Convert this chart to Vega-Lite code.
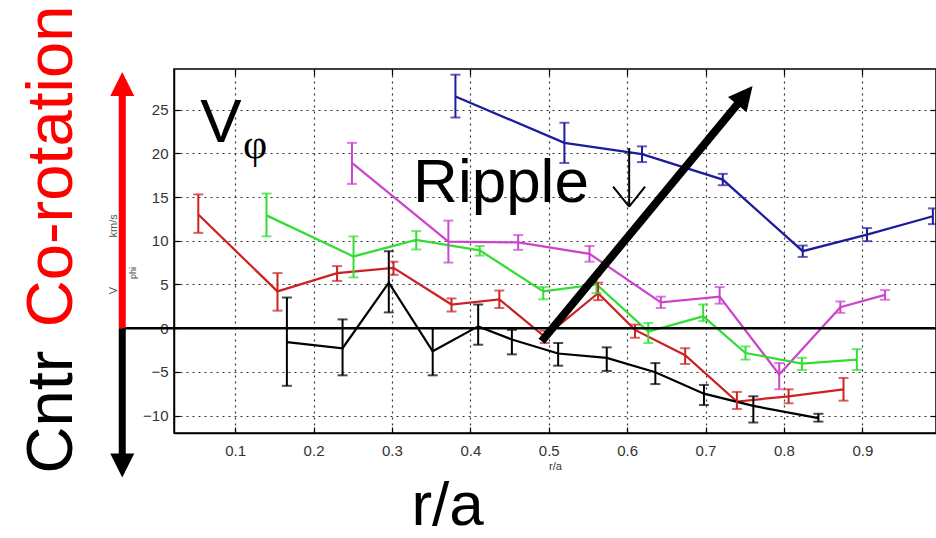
{
  "$schema": "https://vega.github.io/schema/vega-lite/v6.json",
  "width": 762,
  "height": 364,
  "autosize": "none",
  "padding": {"left": 174, "top": 69, "right": 0, "bottom": 105},
  "background": "white",
  "config": {
    "view": {"stroke": "black", "strokeWidth": 1.5},
    "font": "Liberation Sans"
  },
  "datasets": {
    "pts": [
      {"s": "blue", "x": 0.381, "y": 26.5, "lo": 24.1, "hi": 29.0},
      {"s": "blue", "x": 0.520, "y": 21.2, "lo": 18.9, "hi": 23.5},
      {"s": "blue", "x": 0.619, "y": 19.9, "lo": 19.0, "hi": 20.8},
      {"s": "blue", "x": 0.722, "y": 17.0, "lo": 16.35, "hi": 17.65},
      {"s": "blue", "x": 0.824, "y": 8.8, "lo": 8.15, "hi": 9.45},
      {"s": "blue", "x": 0.906, "y": 10.7, "lo": 9.95, "hi": 11.45},
      {"s": "blue", "x": 0.990, "y": 12.8, "lo": 11.9, "hi": 13.7},
      {"s": "magenta", "x": 0.249, "y": 18.9, "lo": 16.5, "hi": 21.2},
      {"s": "magenta", "x": 0.372, "y": 9.9, "lo": 7.5, "hi": 12.3},
      {"s": "magenta", "x": 0.461, "y": 9.8, "lo": 8.95, "hi": 10.65},
      {"s": "magenta", "x": 0.552, "y": 8.5, "lo": 7.6, "hi": 9.4},
      {"s": "magenta", "x": 0.643, "y": 2.95, "lo": 2.3, "hi": 3.6},
      {"s": "magenta", "x": 0.718, "y": 3.6, "lo": 2.8, "hi": 4.7},
      {"s": "magenta", "x": 0.794, "y": -5.3, "lo": -7.0, "hi": -4.0},
      {"s": "magenta", "x": 0.872, "y": 2.4, "lo": 1.75, "hi": 3.05},
      {"s": "magenta", "x": 0.929, "y": 3.8, "lo": 3.25, "hi": 4.35},
      {"s": "green", "x": 0.140, "y": 12.9, "lo": 10.5, "hi": 15.4},
      {"s": "green", "x": 0.251, "y": 8.2, "lo": 5.8, "hi": 10.5},
      {"s": "green", "x": 0.331, "y": 10.1, "lo": 9.0, "hi": 11.1},
      {"s": "green", "x": 0.412, "y": 8.9, "lo": 8.3, "hi": 9.4},
      {"s": "green", "x": 0.493, "y": 4.2, "lo": 3.3, "hi": 4.7},
      {"s": "green", "x": 0.561, "y": 5.0, "lo": 4.0, "hi": 6.0},
      {"s": "green", "x": 0.627, "y": -0.4, "lo": -1.7, "hi": 0.6},
      {"s": "green", "x": 0.697, "y": 1.35, "lo": 0.8, "hi": 2.7},
      {"s": "green", "x": 0.751, "y": -2.85, "lo": -3.6, "hi": -2.1},
      {"s": "green", "x": 0.823, "y": -4.05, "lo": -4.8, "hi": -3.4},
      {"s": "green", "x": 0.893, "y": -3.6, "lo": -4.8, "hi": -2.4},
      {"s": "red", "x": 0.053, "y": 13.0, "lo": 10.9, "hi": 15.3},
      {"s": "red", "x": 0.154, "y": 4.2, "lo": 2.0, "hi": 6.3},
      {"s": "red", "x": 0.230, "y": 6.3, "lo": 5.4, "hi": 7.1},
      {"s": "red", "x": 0.302, "y": 6.9, "lo": 6.1, "hi": 7.6},
      {"s": "red", "x": 0.376, "y": 2.7, "lo": 1.9, "hi": 3.4},
      {"s": "red", "x": 0.437, "y": 3.3, "lo": 2.3, "hi": 4.3},
      {"s": "red", "x": 0.495, "y": -1.0, "lo": -1.7, "hi": -0.3},
      {"s": "red", "x": 0.563, "y": 4.0, "lo": 3.2, "hi": 5.2},
      {"s": "red", "x": 0.610, "y": -0.2, "lo": -1.1, "hi": 0.4},
      {"s": "red", "x": 0.674, "y": -3.1, "lo": -4.1, "hi": -2.3},
      {"s": "red", "x": 0.740, "y": -8.4, "lo": -9.25, "hi": -7.3},
      {"s": "red", "x": 0.806, "y": -7.8, "lo": -8.6, "hi": -7.0},
      {"s": "red", "x": 0.876, "y": -7.0, "lo": -8.3, "hi": -5.7},
      {"s": "black", "x": 0.166, "y": -1.6, "lo": -6.6, "hi": 3.5},
      {"s": "black", "x": 0.237, "y": -2.3, "lo": -5.4, "hi": 1.0},
      {"s": "black", "x": 0.296, "y": 5.2, "lo": 1.8, "hi": 8.8},
      {"s": "black", "x": 0.352, "y": -2.65, "lo": -5.4, "hi": 0.0},
      {"s": "black", "x": 0.410, "y": 0.2, "lo": -1.9, "hi": 2.7},
      {"s": "black", "x": 0.453, "y": -1.3, "lo": -3.0, "hi": -0.2},
      {"s": "black", "x": 0.512, "y": -2.9, "lo": -4.3, "hi": -1.7},
      {"s": "black", "x": 0.574, "y": -3.4, "lo": -4.9, "hi": -2.2},
      {"s": "black", "x": 0.636, "y": -5.05, "lo": -6.4, "hi": -4.0},
      {"s": "black", "x": 0.698, "y": -7.5, "lo": -8.8, "hi": -6.5},
      {"s": "black", "x": 0.761, "y": -8.9, "lo": -10.8, "hi": -7.8},
      {"s": "black", "x": 0.844, "y": -10.3, "lo": -10.7, "hi": -9.8}
    ],
    "ann": [
      {"id": "corot", "label": "Co-rotation", "x": -0.108, "y": 18.5},
      {"id": "cntr", "label": "Cntr", "x": -0.108, "y": -9.6},
      {"id": "bigV", "label": "V", "x": 0.0554, "y": 21.35},
      {"id": "phiBig", "label": "φ", "x": 0.110, "y": 19.5},
      {"id": "ripple", "label": "Ripple", "x": 0.327, "y": 14.4},
      {"id": "ra", "label": "r/a", "x": 0.371, "y": -22.55},
      {"id": "smallV", "label": "V", "x": -0.051, "y": 4.3},
      {"id": "kms", "label": "km/s", "x": -0.051, "y": 11.7},
      {"id": "phiSmall", "label": "phi", "x": -0.026, "y": 6.3}
    ],
    "segs": [
      {"name": "zero", "x": -0.044, "y": 0, "x2": 0.994, "y2": 0},
      {"name": "up", "x": -0.044, "y": 0, "x2": -0.044, "y2": 27.0},
      {"name": "down", "x": -0.044, "y": 0, "x2": -0.044, "y2": -14.8},
      {"name": "diag", "x": 0.491, "y": -1.5, "x2": 0.747, "y2": 26.3},
      {"name": "ripv", "x": 0.6026, "y": 20.6, "x2": 0.6026, "y2": 13.9},
      {"name": "ripl", "x": 0.5821, "y": 16.2, "x2": 0.6026, "y2": 13.9},
      {"name": "ripr", "x": 0.6229, "y": 16.2, "x2": 0.6026, "y2": 13.9}
    ],
    "heads": [
      {"name": "up", "x": -0.044, "y": 29.3},
      {"name": "down", "x": -0.044, "y": -17.1},
      {"name": "diag", "x": 0.760, "y": 27.7}
    ]
  },
  "resolve": {"axis": {"x": "independent", "y": "independent"}},
  "layer": [
    {
      "data": {"name": "pts"},
      "mark": {"type": "line"},
      "encoding": {
        "x": {"field": "x", "type": "quantitative",
          "scale": {"domain": [0.022, 0.994], "nice": false, "zero": false},
          "axis": {"orient": "bottom", "values": [0.1, 0.2, 0.3, 0.4, 0.5, 0.6, 0.7, 0.8, 0.9], "format": ".1f",
            "grid": true, "gridDash": [2, 4], "gridColor": "#333", "gridOpacity": 1, "gridWidth": 1.2,
            "tickSize": -6, "tickColor": "black", "tickWidth": 1.2, "domainColor": "black", "domainWidth": 1.5,
            "labelFont": "Liberation Sans", "labelFontSize": 15, "labelColor": "#333", "labelPadding": 16,
            "title": "r/a", "titleFont": "Liberation Sans", "titleFontSize": 11, "titleFontWeight": "normal", "titleColor": "#333", "titlePadding": 2}},
        "y": {"field": "y", "type": "quantitative",
          "scale": {"domain": [-12, 29.65], "nice": false, "zero": false},
          "axis": {"orient": "left", "values": [-10, -5, 0, 5, 10, 15, 20, 25],
            "grid": true, "gridDash": [2, 4], "gridColor": "#333", "gridOpacity": 1, "gridWidth": 1.2,
            "tickSize": -6, "tickColor": "black", "tickWidth": 1.2, "domainColor": "black", "domainWidth": 1.5,
            "labelFont": "Liberation Sans", "labelFontSize": 15, "labelColor": "#333", "labelPadding": 12,
            "title": null}},
        "color": {"field": "s", "type": "nominal",
          "scale": {"domain": ["blue", "magenta", "green", "red", "black"], "range": ["#1c1c9c", "#cc44cc", "#33dd33", "#cc2222", "#000000"]},
          "legend": null},
        "strokeWidth": {"field": "s", "type": "nominal",
          "scale": {"domain": ["blue", "magenta", "green", "red", "black"], "range": [2.3, 2.2, 3, 2.2, 2.2]},
          "legend": null}
      }
    },
    {
      "data": {"name": "pts"},
      "mark": {"type": "rule", "strokeWidth": 2},
      "encoding": {
        "x": {"field": "x", "type": "quantitative", "scale": {"domain": [0.022, 0.994], "nice": false, "zero": false},
          "axis": {"orient": "top", "values": [0.1, 0.2, 0.3, 0.4, 0.5, 0.6, 0.7, 0.8, 0.9], "labels": false, "domain": false, "grid": false,
            "tickSize": -6, "tickColor": "black", "tickWidth": 1.2, "title": null}},
        "y": {"field": "lo", "type": "quantitative", "scale": {"domain": [-12, 29.65], "nice": false, "zero": false},
          "axis": {"orient": "right", "values": [-10, -5, 0, 5, 10, 15, 20, 25], "labels": false, "domain": false, "grid": false,
            "tickSize": -6, "tickColor": "black", "tickWidth": 1.2, "title": null}},
        "y2": {"field": "hi"},
        "color": {"field": "s", "type": "nominal", "legend": null}
      }
    },
    {
      "data": {"name": "pts"},
      "mark": {"type": "tick", "orient": "horizontal", "size": 10, "thickness": 2},
      "encoding": {
        "x": {"field": "x", "type": "quantitative", "scale": {"domain": [0.022, 0.994], "nice": false, "zero": false}, "axis": null},
        "y": {"field": "lo", "type": "quantitative", "scale": {"domain": [-12, 29.65], "nice": false, "zero": false}, "axis": null},
        "color": {"field": "s", "type": "nominal", "legend": null}
      }
    },
    {
      "data": {"name": "pts"},
      "mark": {"type": "tick", "orient": "horizontal", "size": 10, "thickness": 2},
      "encoding": {
        "x": {"field": "x", "type": "quantitative", "scale": {"domain": [0.022, 0.994], "nice": false, "zero": false}, "axis": null},
        "y": {"field": "hi", "type": "quantitative", "scale": {"domain": [-12, 29.65], "nice": false, "zero": false}, "axis": null},
        "color": {"field": "s", "type": "nominal", "legend": null}
      }
    },
    {
      "data": {"name": "ann"},
      "transform": [{"filter": "datum.id == 'smallV' || datum.id == 'kms'"}],
      "mark": {"type": "text", "font": "Liberation Sans", "fontSize": 11, "color": "#555", "angle": 270, "align": "center", "baseline": "alphabetic"},
      "encoding": {
        "x": {"field": "x", "type": "quantitative", "scale": {"domain": [0.022, 0.994], "nice": false, "zero": false}, "axis": null},
        "y": {"field": "y", "type": "quantitative", "scale": {"domain": [-12, 29.65], "nice": false, "zero": false}, "axis": null},
        "text": {"field": "label", "type": "nominal"}
      }
    },
    {
      "data": {"name": "ann"},
      "transform": [{"filter": "datum.id == 'phiSmall'"}],
      "mark": {"type": "text", "font": "Liberation Sans", "fontSize": 9, "color": "#555", "angle": 270, "align": "center", "baseline": "alphabetic"},
      "encoding": {
        "x": {"field": "x", "type": "quantitative", "scale": {"domain": [0.022, 0.994], "nice": false, "zero": false}, "axis": null},
        "y": {"field": "y", "type": "quantitative", "scale": {"domain": [-12, 29.65], "nice": false, "zero": false}, "axis": null},
        "text": {"field": "label", "type": "nominal"}
      }
    },
    {
      "data": {"name": "segs"},
      "transform": [{"filter": "datum.name == 'zero'"}],
      "mark": {"type": "rule", "color": "black", "strokeWidth": 2.5},
      "encoding": {
        "x": {"field": "x", "type": "quantitative", "scale": {"domain": [0.022, 0.994], "nice": false, "zero": false}, "axis": null},
        "y": {"field": "y", "type": "quantitative", "scale": {"domain": [-12, 29.65], "nice": false, "zero": false}, "axis": null},
        "x2": {"field": "x2"},
        "y2": {"field": "y2"}
      }
    },
    {
      "data": {"name": "segs"},
      "transform": [{"filter": "datum.name == 'up'"}],
      "mark": {"type": "rule", "color": "#ff0000", "strokeWidth": 7},
      "encoding": {
        "x": {"field": "x", "type": "quantitative", "scale": {"domain": [0.022, 0.994], "nice": false, "zero": false}, "axis": null},
        "y": {"field": "y", "type": "quantitative", "scale": {"domain": [-12, 29.65], "nice": false, "zero": false}, "axis": null},
        "x2": {"field": "x2"},
        "y2": {"field": "y2"}
      }
    },
    {
      "data": {"name": "segs"},
      "transform": [{"filter": "datum.name == 'down'"}],
      "mark": {"type": "rule", "color": "black", "strokeWidth": 7},
      "encoding": {
        "x": {"field": "x", "type": "quantitative", "scale": {"domain": [0.022, 0.994], "nice": false, "zero": false}, "axis": null},
        "y": {"field": "y", "type": "quantitative", "scale": {"domain": [-12, 29.65], "nice": false, "zero": false}, "axis": null},
        "x2": {"field": "x2"},
        "y2": {"field": "y2"}
      }
    },
    {
      "data": {"name": "segs"},
      "transform": [{"filter": "datum.name == 'ripv' || datum.name == 'ripl' || datum.name == 'ripr'"}],
      "mark": {"type": "rule", "color": "black", "strokeWidth": 2},
      "encoding": {
        "x": {"field": "x", "type": "quantitative", "scale": {"domain": [0.022, 0.994], "nice": false, "zero": false}, "axis": null},
        "y": {"field": "y", "type": "quantitative", "scale": {"domain": [-12, 29.65], "nice": false, "zero": false}, "axis": null},
        "x2": {"field": "x2"},
        "y2": {"field": "y2"}
      }
    },
    {
      "data": {"name": "heads"},
      "transform": [{"filter": "datum.name == 'up'"}],
      "mark": {"type": "point", "shape": "M0,0L1,2L-1,2Z", "size": 576, "filled": true, "color": "#ff0000", "opacity": 1, "angle": 0},
      "encoding": {
        "x": {"field": "x", "type": "quantitative", "scale": {"domain": [0.022, 0.994], "nice": false, "zero": false}, "axis": null},
        "y": {"field": "y", "type": "quantitative", "scale": {"domain": [-12, 29.65], "nice": false, "zero": false}, "axis": null}
      }
    },
    {
      "data": {"name": "heads"},
      "transform": [{"filter": "datum.name == 'down'"}],
      "mark": {"type": "point", "shape": "M0,0L1,2L-1,2Z", "size": 576, "filled": true, "color": "black", "opacity": 1, "angle": 180},
      "encoding": {
        "x": {"field": "x", "type": "quantitative", "scale": {"domain": [0.022, 0.994], "nice": false, "zero": false}, "axis": null},
        "y": {"field": "y", "type": "quantitative", "scale": {"domain": [-12, 29.65], "nice": false, "zero": false}, "axis": null}
      }
    },
    {
      "data": {"name": "ann"},
      "transform": [{"filter": "datum.id == 'corot'"}],
      "mark": {"type": "text", "font": "Liberation Sans", "fontSize": 65, "color": "#ff0000", "angle": 270, "align": "center", "baseline": "alphabetic"},
      "encoding": {
        "x": {"field": "x", "type": "quantitative", "scale": {"domain": [0.022, 0.994], "nice": false, "zero": false}, "axis": null},
        "y": {"field": "y", "type": "quantitative", "scale": {"domain": [-12, 29.65], "nice": false, "zero": false}, "axis": null},
        "text": {"field": "label", "type": "nominal"}
      }
    },
    {
      "data": {"name": "ann"},
      "transform": [{"filter": "datum.id == 'cntr'"}],
      "mark": {"type": "text", "font": "Liberation Sans", "fontSize": 65, "color": "black", "angle": 270, "align": "center", "baseline": "alphabetic"},
      "encoding": {
        "x": {"field": "x", "type": "quantitative", "scale": {"domain": [0.022, 0.994], "nice": false, "zero": false}, "axis": null},
        "y": {"field": "y", "type": "quantitative", "scale": {"domain": [-12, 29.65], "nice": false, "zero": false}, "axis": null},
        "text": {"field": "label", "type": "nominal"}
      }
    },
    {
      "data": {"name": "ann"},
      "transform": [{"filter": "datum.id == 'bigV' || datum.id == 'ripple'"}],
      "mark": {"type": "text", "font": "Liberation Sans", "fontSize": 62, "color": "black", "align": "left", "baseline": "alphabetic"},
      "encoding": {
        "x": {"field": "x", "type": "quantitative", "scale": {"domain": [0.022, 0.994], "nice": false, "zero": false}, "axis": null},
        "y": {"field": "y", "type": "quantitative", "scale": {"domain": [-12, 29.65], "nice": false, "zero": false}, "axis": null},
        "text": {"field": "label", "type": "nominal"}
      }
    },
    {
      "data": {"name": "ann"},
      "transform": [{"filter": "datum.id == 'phiBig'"}],
      "mark": {"type": "text", "font": "Liberation Serif", "fontSize": 42, "color": "black", "align": "left", "baseline": "alphabetic"},
      "encoding": {
        "x": {"field": "x", "type": "quantitative", "scale": {"domain": [0.022, 0.994], "nice": false, "zero": false}, "axis": null},
        "y": {"field": "y", "type": "quantitative", "scale": {"domain": [-12, 29.65], "nice": false, "zero": false}, "axis": null},
        "text": {"field": "label", "type": "nominal"}
      }
    },
    {
      "data": {"name": "ann"},
      "transform": [{"filter": "datum.id == 'ra'"}],
      "mark": {"type": "text", "font": "Liberation Sans", "fontSize": 62, "color": "black", "align": "center", "baseline": "alphabetic"},
      "encoding": {
        "x": {"field": "x", "type": "quantitative", "scale": {"domain": [0.022, 0.994], "nice": false, "zero": false}, "axis": null},
        "y": {"field": "y", "type": "quantitative", "scale": {"domain": [-12, 29.65], "nice": false, "zero": false}, "axis": null},
        "text": {"field": "label", "type": "nominal"}
      }
    },
    {
      "data": {"name": "segs"},
      "transform": [{"filter": "datum.name == 'diag'"}],
      "mark": {"type": "rule", "color": "black", "strokeWidth": 8},
      "encoding": {
        "x": {"field": "x", "type": "quantitative", "scale": {"domain": [0.022, 0.994], "nice": false, "zero": false}, "axis": null},
        "y": {"field": "y", "type": "quantitative", "scale": {"domain": [-12, 29.65], "nice": false, "zero": false}, "axis": null},
        "x2": {"field": "x2"},
        "y2": {"field": "y2"}
      }
    },
    {
      "data": {"name": "heads"},
      "transform": [{"filter": "datum.name == 'diag'"}],
      "mark": {"type": "point", "shape": "M0,0L1,2L-1,2Z", "size": 576, "filled": true, "color": "black", "opacity": 1, "angle": 39.5},
      "encoding": {
        "x": {"field": "x", "type": "quantitative", "scale": {"domain": [0.022, 0.994], "nice": false, "zero": false}, "axis": null},
        "y": {"field": "y", "type": "quantitative", "scale": {"domain": [-12, 29.65], "nice": false, "zero": false}, "axis": null}
      }
    }
  ]
}
